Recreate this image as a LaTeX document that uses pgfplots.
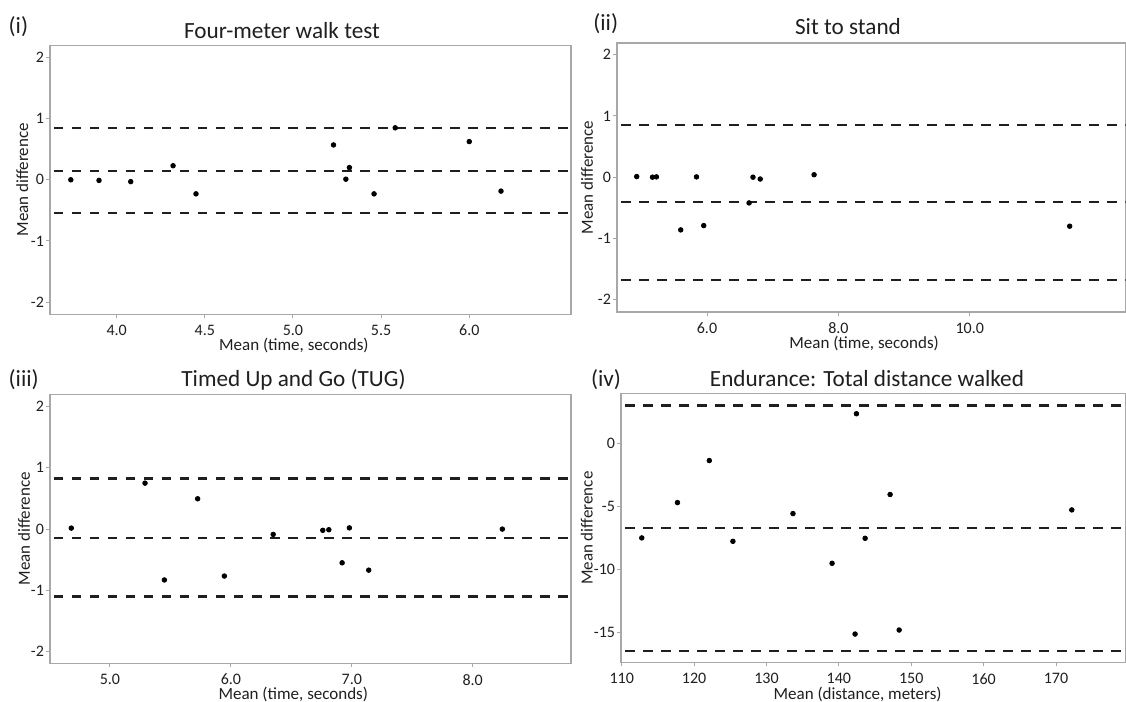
\documentclass[border=0pt]{standalone}
\usepackage{fontspec}
\setmainfont{Carlito}
\usepackage{pgfplots}
\pgfplotsset{compat=1.18}

\definecolor{txt}{HTML}{1F1F1F}
\definecolor{frame}{HTML}{A8A8A8}

\pgfplotsset{
  ba/.style={
    scale only axis,
    height=134.5pt,
    axis line style={frame, line width=0.7pt},
    tick style={frame, line width=0.5pt},
    tick align=outside,
    major tick length=1.8pt,
    xtick pos=bottom, ytick pos=left,
    ticklabel style={font=\fontsize{8}{9}\selectfont, text=txt, inner sep=1pt},
    xticklabel style={yshift=-2.4pt},
    /pgf/number format/assume math mode=true,
    label style={font=\fontsize{8.5}{10}\selectfont, text=txt, inner sep=0.5pt},
    ylabel={Mean difference},
    xlabel={Mean (time, seconds)},
  },
  lim/.style={black!88, line width=1.1pt, dash pattern=on 4.75pt off 4.25pt, dash phase=-2pt, forget plot},
  pts/.style={only marks, mark=*, mark size=1.15pt, black},
  dec/.style={xticklabel style={/pgf/number format/.cd, fixed, fixed zerofill, precision=1}},
  yl/.style={ylabel style={at={(axis description cs:#1,0.5)}, anchor=center}},
  xl/.style={xlabel style={at={(axis description cs:#1,0)}, anchor=center, yshift=-15.8pt}},
}

\begin{document}
\begin{tikzpicture}
\useasboundingbox (0,0) rectangle (563pt,351pt);

% (i) Four-meter walk test
\begin{axis}[ba, dec, at={(25pt,193.85pt)}, anchor=south west, width=260.5pt,
  xmin=3.622, xmax=6.577, ymin=-2.2, ymax=2.2,
  xtick={4.0,4.5,5.0,5.5,6.0}, ytick={-2,-1,0,1,2},
  yl=-0.053, xl=0.468]
\addplot[lim] coordinates {(3.622,0.85)(6.577,0.85)};
\addplot[lim] coordinates {(3.622,0.15)(6.577,0.15)};
\addplot[lim] coordinates {(3.622,-0.545)(6.577,-0.545)};
\addplot[pts] coordinates {
(3.74,0.00)(3.90,-0.01)(4.08,-0.03)(4.32,0.23)(4.45,-0.23)(5.23,0.57)
(5.30,0.01)(5.32,0.20)(5.46,-0.23)(5.58,0.85)(6.00,0.625)(6.18,-0.185)};
\end{axis}

% (ii) Sit to stand
\begin{axis}[ba, dec, at={(308.5pt,195pt)}, anchor=south west, width=254.25pt,
  xmin=4.63, xmax=12.37, ymin=-2.2, ymax=2.19,
  xtick={6,8,10}, ytick={-2,-1,0,1,2},
  yl=-0.059, xl=0.486]
\addplot[lim] coordinates {(4.63,0.85)(12.37,0.85)};
\addplot[lim] coordinates {(4.63,-0.41)(12.37,-0.41)};
\addplot[lim] coordinates {(4.63,-1.675)(12.37,-1.675)};
\addplot[pts] coordinates {
(4.93,0.01)(5.17,0.00)(5.23,0.005)(5.60,-0.86)(5.84,0.005)(5.95,-0.79)
(6.64,-0.42)(6.70,0.00)(6.81,-0.03)(7.63,0.04)(11.52,-0.80)};
\end{axis}

% (iii) Timed Up and Go
\begin{axis}[ba, dec, at={(25pt,19.35pt)}, anchor=south west, width=260.5pt,
  xmin=4.504, xmax=8.813, ymin=-2.19, ymax=2.2,
  xtick={5,6,7,8}, ytick={-2,-1,0,1,2},
  yl=-0.05, xl=0.467]
\addplot[lim] coordinates {(4.504,0.825)(8.813,0.825)};
\addplot[lim] coordinates {(4.504,-0.14)(8.813,-0.14)};
\addplot[lim] coordinates {(4.504,-1.10)(8.813,-1.10)};
\addplot[pts] coordinates {
(4.68,0.016)(5.29,0.75)(5.45,-0.83)(5.725,0.495)(5.946,-0.766)(6.35,-0.087)
(6.76,-0.02)(6.81,-0.01)(6.92,-0.55)(6.98,0.02)(7.14,-0.67)(8.245,0.00)};
\end{axis}

% (iv) Endurance
\begin{axis}[ba, at={(310.5pt,19.65pt)}, anchor=south west, width=252.25pt,
  xmin=109.9, xmax=179.6, ymin=-17.4, ymax=3.92,
  xtick={110,120,...,170}, ytick={-15,-10,-5,0},
  xlabel={Mean (distance, meters)},
  yl=-0.068, xl=0.469]
\addplot[lim] coordinates {(109.9,2.99)(179.6,2.99)};
\addplot[lim] coordinates {(109.9,-6.75)(179.6,-6.75)};
\addplot[lim] coordinates {(109.9,-16.48)(179.6,-16.48)};
\addplot[pts] coordinates {
(112.77,-7.51)(117.7,-4.71)(122.1,-1.38)(125.36,-7.78)(133.66,-5.58)(139.06,-9.52)
(142.24,-15.13)(142.43,2.33)(143.63,-7.54)(147.08,-4.07)(148.33,-14.81)(172.18,-5.29)};
\end{axis}

% titles and panel labels
\begin{scope}[every node/.style={text=txt, font=\fontsize{11.6}{13}\selectfont}]
\node[anchor=base] at (141pt,331.85pt) {Four-meter walk test};
\node[anchor=base] at (424pt,333.5pt) {Sit to stand};
\node[anchor=base] at (146.75pt,157.65pt) {Timed Up and Go (TUG)};
\node[anchor=base] at (433.5pt,157.65pt) {Endurance: Total distance walked};
\node[anchor=west, inner sep=0pt] at (4.15pt,337.65pt) {(i)};
\node[anchor=west, inner sep=0pt] at (296.5pt,339.3pt) {(ii)};
\node[anchor=west, inner sep=0pt] at (4.15pt,161pt) {(iii)};
\node[anchor=west, inner sep=0pt] at (295.35pt,161.4pt) {(iv)};
\end{scope}
\end{tikzpicture}
\end{document}
